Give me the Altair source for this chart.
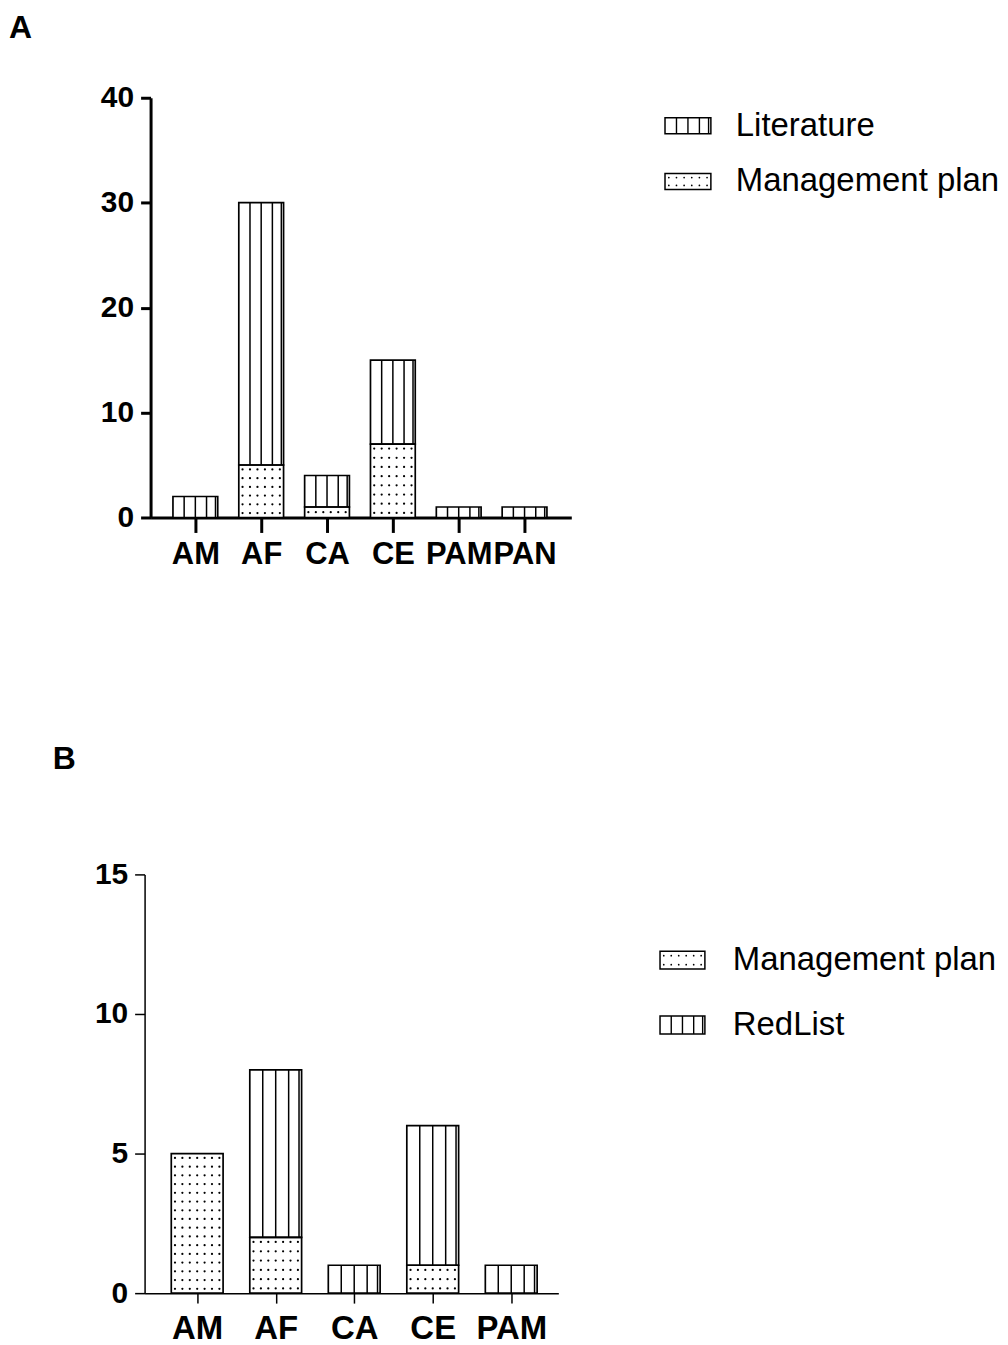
import json
import altair as alt
import numpy as np
import pandas as pd

# ---------------- data ----------------
cats_a = ["AM", "AF", "CA", "CE", "PAM", "PAN"]
literature_a = [2, 25, 3, 8, 1, 1]
management_a = [0, 5, 1, 7, 0, 0]
yticks_a = [0, 10, 20, 30, 40]

cats_b = ["AM", "AF", "CA", "CE", "PAM"]
management_b = [5, 2, 0, 1, 0]
redlist_b = [0, 6, 1, 5, 1]
yticks_b = [0, 5, 10, 15]

FONT = "Liberation Sans"
STRIPE_FRACS = [0.25, 0.5, 0.75, 0.95]


def segments(cats, stack, half):
    rows = []
    base = [0.0] * len(cats)
    for name, vals, pat in stack:
        for i, (c, v) in enumerate(zip(cats, vals)):
            if v > 0:
                rows.append(dict(idx=i, cat=c, series=name, pattern=pat,
                                 y0=base[i], y1=base[i] + v,
                                 xl=i - half, xr=i + half))
            base[i] += v
    return pd.DataFrame(rows)


def stripes(seg):
    rows = []
    for r in seg[seg.pattern == "stripe"].itertuples():
        for f in STRIPE_FRACS:
            rows.append(dict(x=r.xl + f * (r.xr - r.xl), y0=r.y0, y1=r.y1))
    return pd.DataFrame(rows)


def dots(seg, ux, uy, dpx_x, dpx_y):
    rows = []
    for r in seg[seg.pattern == "dot"].itertuples():
        n = max(1, int(round((r.xr - r.xl) * ux / dpx_x)))
        sx = (r.xr - r.xl) / n
        m = max(1, int(((r.y1 - r.y0) * uy) // dpx_y))
        sy = (r.y1 - r.y0) / m
        for a in range(n):
            for b in range(m):
                rows.append(dict(x=r.xl + sx * (a + 0.5), y=r.y0 + sy * (b + 0.5)))
    return pd.DataFrame(rows)


def panel(cats, stack, yticks, width, height, xl_pad, xr_pad, half,
          axis_w, ylab_size, xlab_size, xlab_pad, xtick, dot_dx, dot_dy):
    n = len(cats)
    xdom = [-xl_pad, n - 1 + xr_pad]
    ydom = [0, yticks[-1]]
    ux = width / (xdom[1] - xdom[0])
    uy = height / ydom[1]
    seg = segments(cats, stack, half)
    st = stripes(seg)
    dt = dots(seg, ux, uy, dot_dx, dot_dy)
    xs = alt.Scale(domain=xdom, nice=False, zero=False)
    ys = alt.Scale(domain=ydom, nice=False, zero=False)
    xaxis = alt.Axis(values=list(range(n)), labelExpr=f"{json.dumps(cats)}[datum.value]",
                     grid=False, domainColor="black", domainWidth=axis_w,
                     tickColor="black", tickWidth=axis_w, tickSize=xtick,
                     labelFont=FONT, labelFontSize=xlab_size, labelFontWeight="bold",
                     labelColor="black", labelPadding=xlab_pad, labelFlush=False,
                     labelOverlap=False, title=None)
    yaxis = alt.Axis(values=yticks, format="d", grid=False, domainColor="black",
                     domainWidth=axis_w, tickColor="black", tickWidth=axis_w, tickSize=10,
                     labelFont=FONT, labelFontSize=ylab_size, labelFontWeight="bold",
                     labelColor="black", labelPadding=7, labelFlush=False, title=None)
    fill = alt.Chart(seg).mark_rect(fill="white").encode(
        x=alt.X("xl:Q", scale=xs, axis=xaxis), x2="xr:Q",
        y=alt.Y("y0:Q", scale=ys, axis=yaxis), y2="y1:Q")
    strp = alt.Chart(st).mark_rule(color="black", strokeWidth=1.5).encode(
        x=alt.X("x:Q", scale=xs, title=None), y=alt.Y("y0:Q", scale=ys, title=None), y2="y1:Q")
    dot = alt.Chart(dt).mark_circle(color="black", size=5, opacity=1).encode(
        x=alt.X("x:Q", scale=xs, title=None), y=alt.Y("y:Q", scale=ys, title=None))
    outline = alt.Chart(seg).mark_rect(fillOpacity=0, stroke="black", strokeWidth=1.7).encode(
        x=alt.X("xl:Q", scale=xs, title=None), x2="xr:Q",
        y=alt.Y("y0:Q", scale=ys, title=None), y2="y1:Q")
    return alt.layer(fill, strp, dot, outline).properties(width=width, height=height)


def legend(items, width, height, x0, first, step, sw, sh, text_dx, font_size):
    d0 = -first / step
    d1 = d0 + height / step
    ys = alt.Scale(domain=[d0, d1], reverse=True, nice=False, zero=False)
    xs = alt.Scale(domain=[0, width], nice=False, zero=False)
    hh = sh / 2 / step
    sw_df = pd.DataFrame([dict(i=i, name=nm, pattern=p, xl=x0, xr=x0 + sw,
                               y0=i - hh, y1=i + hh, tx=x0 + text_dx)
                          for i, (nm, p) in enumerate(items)])
    st_rows, dt_rows = [], []
    for r in sw_df.itertuples():
        if r.pattern == "stripe":
            for f in STRIPE_FRACS:
                st_rows.append(dict(x=r.xl + f * sw, y0=r.y0, y1=r.y1))
        else:
            for a in range(6):
                for b in range(2):
                    dt_rows.append(dict(x=r.xl + sw * (a + 0.5) / 6,
                                        y=r.y0 + (r.y1 - r.y0) * (b + 0.5) / 2))
    base_x = alt.X("xl:Q", scale=xs, axis=None)
    base_y = alt.Y("y0:Q", scale=ys, axis=None)
    layers = [alt.Chart(sw_df).mark_rect(fill="white").encode(
        x=base_x, x2="xr:Q", y=base_y, y2="y1:Q")]
    if st_rows:
        layers.append(alt.Chart(pd.DataFrame(st_rows)).mark_rule(color="black", strokeWidth=1.4).encode(
            x=alt.X("x:Q", scale=xs, axis=None), y=alt.Y("y0:Q", scale=ys, axis=None), y2="y1:Q"))
    if dt_rows:
        layers.append(alt.Chart(pd.DataFrame(dt_rows)).mark_circle(color="black", size=3, opacity=1).encode(
            x=alt.X("x:Q", scale=xs, axis=None), y=alt.Y("y:Q", scale=ys, axis=None)))
    layers.append(alt.Chart(sw_df).mark_rect(fillOpacity=0, stroke="black", strokeWidth=1.5).encode(
        x=base_x, x2="xr:Q", y=base_y, y2="y1:Q"))
    layers.append(alt.Chart(sw_df).mark_text(align="left", baseline="middle", font=FONT,
                                             fontSize=font_size, color="black").encode(
        x=alt.X("tx:Q", scale=xs, axis=None), y=alt.Y("i:Q", scale=ys, axis=None), text="name:N"))
    return alt.layer(*layers).properties(width=width, height=height)


# ---------------- panel A ----------------
plot_a = panel(cats_a,
               [("Management plan", management_a, "dot"), ("Literature", literature_a, "stripe")],
               yticks_a, width=422, height=421, xl_pad=0.68, xr_pad=0.71, half=0.34,
               axis_w=3, ylab_size=30, xlab_size=31, xlab_pad=7, xtick=15,
               dot_dx=8, dot_dy=8.5)
leg_a = legend([("Literature", "stripe"), ("Management plan", "dot")],
               width=420, height=421, x0=89, first=28, step=56, sw=46, sh=16,
               text_dx=71, font_size=33)
spacer = alt.Chart(pd.DataFrame({"v": [0]})).mark_point(opacity=0).encode(
    x=alt.value(0), y=alt.value(0)).properties(width=1, height=1)

row_a = alt.hconcat(spacer, plot_a, leg_a, spacing=5, bounds="flush").properties(
    title=alt.TitleParams("A", anchor="start", frame="group", dx=-136, offset=38,
                          font=FONT, fontSize=32, fontWeight="bold", color="black"))

# ---------------- panel B ----------------
plot_b = panel(cats_b,
               [("Management plan", management_b, "dot"), ("RedList", redlist_b, "stripe")],
               yticks_b, width=415, height=420, xl_pad=0.67, xr_pad=0.6, half=0.33,
               axis_w=1.5, ylab_size=30, xlab_size=33, xlab_pad=9, xtick=10,
               dot_dx=7.7, dot_dy=8.4)
leg_b = legend([("Management plan", "dot"), ("RedList", "stripe")],
               width=420, height=420, x0=97, first=86, step=65, sw=45, sh=18,
               text_dx=73, font_size=33)
row_b = alt.hconcat(plot_b, leg_b, spacing=5, bounds="flush").properties(
    title=alt.TitleParams("B", anchor="start", frame="group", dx=-92, offset=84,
                          font=FONT, fontSize=32, fontWeight="bold", color="black"))

chart = alt.vconcat(row_a, row_b, spacing=779, bounds="flush").properties(
    padding={"left": 1, "top": 2, "right": 0, "bottom": 0}
).configure_view(strokeWidth=0)

chart.save("out.html", embed_options={"renderer": "svg", "actions": False})
